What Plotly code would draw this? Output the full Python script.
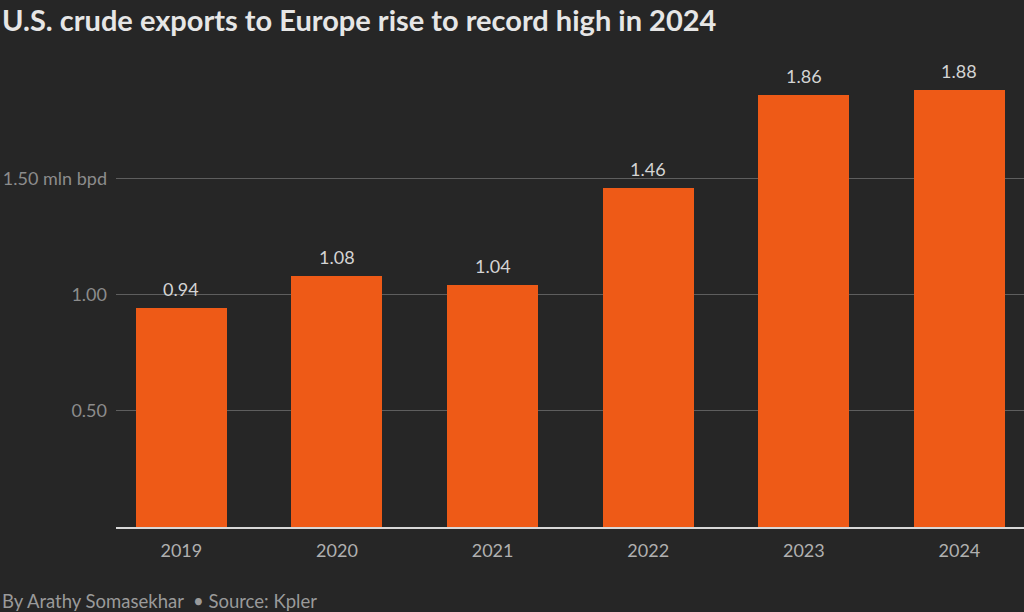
import plotly.graph_objects as go

years = ["2019", "2020", "2021", "2022", "2023", "2024"]
exports = [0.94, 1.08, 1.04, 1.46, 1.86, 1.88]
value_labels = ["0.94", "1.08", "1.04", "1.46", "1.86", "1.88"]
tick_vals = [0.5, 1.0, 1.5]
tick_text = ["0.50", "1.00", "1.50 mln bpd"]

BG = "#262626"
BAR = "#EE5A17"
FONT = "Lato"

fig = go.Figure()
fig.add_trace(go.Bar(
    x=years, y=exports, marker=dict(color=BAR, line=dict(width=0)),
    width=0.585, hoverinfo="skip",
))

for i, (v, lab) in enumerate(zip(exports, value_labels)):
    fig.add_annotation(x=i, y=v, text=lab, showarrow=False, yanchor="bottom",
                       yshift=6, font=dict(family=FONT, size=18, color="#d4d4d4"))

fig.add_annotation(xref="paper", yref="paper", x=-116/908, y=1 + 42/465,
                   xanchor="left", yanchor="middle", showarrow=False,
                   text="<b>U.S. crude exports to Europe rise to record high in 2024</b>",
                   font=dict(family=FONT, size=29, color="#e6e6e6"))
fig.add_annotation(xref="paper", yref="paper", x=-116/908, y=-74/465,
                   xanchor="left", yanchor="middle", showarrow=False,
                   text="By Arathy Somasekhar  • Source: Kpler",
                   font=dict(family=FONT, size=18.5, color="#9a9a9a"))

fig.update_layout(
    width=1024, height=612,
    paper_bgcolor=BG, plot_bgcolor=BG,
    margin=dict(l=116, r=0, t=62, b=85),
    showlegend=False,
    bargap=0,
    xaxis=dict(type="category", range=[-0.42, 5.415], showgrid=False,
               showline=True, linecolor="#d8d8d8", linewidth=2,
               ticks="", tickfont=dict(family=FONT, size=18, color="#b0b0b0"),
               ticklabelstandoff=6, zeroline=False, fixedrange=True),
    yaxis=dict(range=[0, 2.0], tickvals=tick_vals, ticktext=tick_text,
               showgrid=True, gridcolor="#5e5e5e", gridwidth=1,
               zeroline=False, showline=False, ticks="",
               tickfont=dict(family=FONT, size=18, color="#8c8c8c"),
               ticklabelstandoff=8, fixedrange=True),
)

fig.write_html("out.html")
